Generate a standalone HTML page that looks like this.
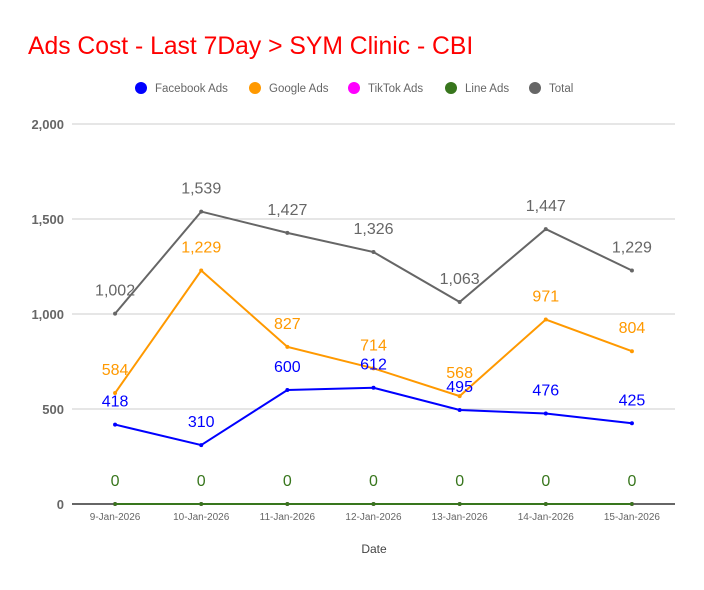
<!DOCTYPE html>
<html><head><meta charset="utf-8"><style>
body{margin:0;background:#fff;width:704px;height:585px;overflow:hidden;font-family:"Liberation Sans",sans-serif}
</style></head><body>
<svg id="chart" width="704" height="585" xmlns="http://www.w3.org/2000/svg" font-family="Liberation Sans, sans-serif">
<text x="28" y="54" font-size="24.7" fill="#ff0000">Ads Cost - Last 7Day &gt; SYM Clinic - CBI</text>
<g id="legend"></g>
<g id="grid"></g><g id="series"></g><g id="labels"></g>
<text x="374" y="553" font-size="12" fill="#444" text-anchor="middle">Date</text>
</svg>
<script>
const categories=["9-Jan-2026","10-Jan-2026","11-Jan-2026","12-Jan-2026","13-Jan-2026","14-Jan-2026","15-Jan-2026"];
const facebook=[418,310,600,612,495,476,425];
const google=[584,1229,827,714,568,971,804];
const tiktok=[0,0,0,0,0,0,0];
const line=[0,0,0,0,0,0,0];
const total=[1002,1539,1427,1326,1063,1447,1229];
const yTicks=[0,500,1000,1500,2000];
const seriesNames=["Facebook Ads","Google Ads","TikTok Ads","Line Ads","Total"];
const seriesColors=["#0000ff","#ff9900","#ff00ff","#38761d","#666666"];
const NS="http://www.w3.org/2000/svg";
const L=72,R=675,T=124,B=504,maxY=2000;
const bw=(R-L)/categories.length;
function x(i){return L+bw*(i+0.5);}
function y(v){return B-(v/maxY)*(B-T);}
function mk(tag,attrs,parent,text){const e=document.createElementNS(NS,tag);for(const k in attrs)e.setAttribute(k,attrs[k]);if(text!==undefined)e.textContent=text;parent.appendChild(e);return e;}
const grid=document.getElementById('grid');
yTicks.forEach(t=>{
  const l=mk('line',{x1:L,x2:R,y1:y(t),y2:y(t),stroke:t===0?'#333':'#ccc','stroke-width':t===0?1.5:1},grid);
  
  
  const tx=mk('text',{x:64,y:y(t)+5,'font-size':13,'font-weight':'bold',fill:'#666','text-anchor':'end'},grid,t.toLocaleString('en-US'));
  
  
});
categories.forEach((c,i)=>{
  const tx=mk('text',{x:x(i),y:520,'font-size':10,fill:'#666','text-anchor':'middle'},grid,c);
  
  
});
const ser=document.getElementById('series'),lab=document.getElementById('labels');
const data=[facebook,google,tiktok,line,total];
[4,1,0,2,3].forEach(s=>{
  const vals=data[s];
  const p=mk('polyline',{points:vals.map((v,i)=>x(i)+','+y(v)).join(' '),fill:'none',stroke:seriesColors[s],'stroke-width':2},ser);
  
  
  vals.forEach((v,i)=>{
    const c=mk('circle',{cx:x(i),cy:y(v),r:2,fill:seriesColors[s]},ser);
    
    
    if(s===2)return;
    const t=mk('text',{x:x(i),y:y(v)-18,'font-size':16,fill:seriesColors[s],'text-anchor':'middle'},lab,v.toLocaleString('en-US'));
    
    
  });
});
const lg=document.getElementById('legend');
const lx=[141,255,354,451,535];
seriesNames.forEach((n,i)=>{
  const c=mk('circle',{cx:lx[i],cy:88,r:6,fill:seriesColors[i]},lg);
  
  
  const t=mk('text',{x:lx[i]+14,y:92,'font-size':11.5,fill:'#666'},lg,n);
  
  
});
</script>
</body></html>
